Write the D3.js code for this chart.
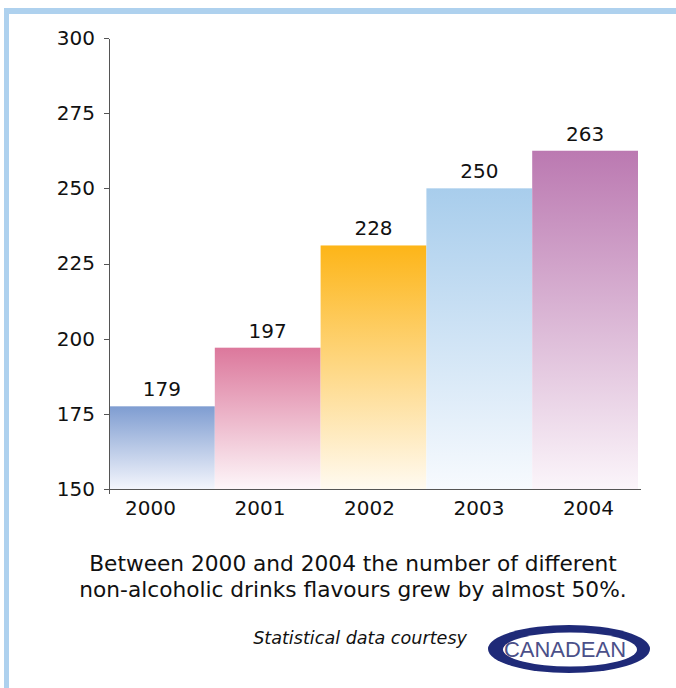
<!DOCTYPE html>
<html>
<head>
<meta charset="utf-8">
<style>
	body { margin: 0; background: #fff; }
	.axis path, .axis line { stroke: #555; shape-rendering: crispEdges; }
	.axis text { font-family: "DejaVu Sans", sans-serif; font-size: 20px; fill: #111; }
	.barlabel { font-family: "DejaVu Sans", sans-serif; font-size: 20px; fill: #111; }
	.caption { font-family: "DejaVu Sans", sans-serif; font-size: 21.7px; fill: #111; }
	.credit { font-family: "DejaVu Sans", sans-serif; font-size: 17.6px; font-style: italic; fill: #111; }
</style>
<script src="https://d3js.org/d3.v7.min.js"></script>
</head>
<body>
<script>
	// values
	var years     = ["2000", "2001", "2002", "2003", "2004"];
	var barValues = [177.5, 197, 231, 250, 262.5];
	var barLabels = ["179", "197", "228", "250", "263"];
	var topColors = ["#7f9dd1", "#dc789c", "#fdb518", "#a8cdec", "#bb79b1"];
	var endColors = ["#f3f5fc", "#fdf6f9", "#fffaf0", "#f7fafe", "#fbf5fa"];
	var yTicks    = [150, 175, 200, 225, 250, 275, 300];
	var captionLines = [
		"Between 2000 and 2004 the number of different",
		"non-alcoholic drinks flavours grew by almost 50%."
	];

	var width = 676, height = 688;

	var svg = d3.select("body")
		.append("svg")
		.attr("width", width)
		.attr("height", height);

	// light blue frame, top and left only
	svg.append("rect").attr("x", 4).attr("y", 8).attr("width", width - 4).attr("height", 6).attr("fill", "#aed1ee");
	svg.append("rect").attr("x", 4).attr("y", 8).attr("width", 5).attr("height", height - 8).attr("fill", "#aed1ee");

	var x = d3.scaleBand().domain(years).range([109, 638]).padding(0);
	var y = d3.scaleLinear().domain([150, 300]).range([489, 38]);
	// the year labels in the original sit on a slightly wider spacing than the bars
	var xLabel = d3.scalePoint().domain(years).range([150, 588]);

	var defs = svg.append("defs");
	years.forEach(function(d, i) {
		var g = defs.append("linearGradient")
			.attr("id", "grad" + i)
			.attr("x1", 0).attr("y1", 0).attr("x2", 0).attr("y2", 1);
		g.append("stop").attr("offset", "0%").attr("stop-color", topColors[i]);
		g.append("stop").attr("offset", "100%").attr("stop-color", endColors[i]);
	});

	svg.selectAll("rect.bar")
		.data(barValues)
		.enter()
		.append("rect")
		  .attr("class", "bar")
		  .attr("x", function(d, i) { return x(years[i]); })
		  .attr("width", x.bandwidth())
		  .attr("y", function(d) { return y(d); })
		  .attr("height", function(d) { return y(150) - y(d); })
		  .attr("fill", function(d, i) { return "url(#grad" + i + ")"; });

	svg.selectAll("text.barlabel")
		.data(barValues)
		.enter()
		.append("text")
		  .attr("class", "barlabel")
		  .attr("text-anchor", "middle")
		  .attr("x", function(d, i) { return x(years[i]) + x.bandwidth() / 2; })
		  .attr("y", function(d) { return y(d) - 10; })
		  .text(function(d, i) { return barLabels[i]; });

	var y_axis = d3.axisLeft(y).tickValues(yTicks).tickSize(5).tickSizeOuter(0).tickPadding(9);
	svg.append("g")
		.attr("class", "y axis")
		.attr("transform", "translate(109,0)")
		.call(y_axis);

	// x axis: domain line from the band scale, labels from the label scale
	var x_axis = d3.axisBottom(xLabel).tickSize(0).tickSizeOuter(0).tickPadding(12);
	var gx = svg.append("g")
		.attr("class", "x axis")
		.attr("transform", "translate(0," + y(150) + ")")
		.call(x_axis);
	gx.select(".domain").attr("d", "M" + x.range()[0] + ",0.5H" + (x.range()[1] + 3));

	// y axis line runs a little below the x axis
	svg.append("line")
		.attr("x1", 109.5).attr("x2", 109.5).attr("y1", y(150)).attr("y2", y(150) + 5)
		.attr("stroke", "#555");

	svg.selectAll("text.caption")
		.data(captionLines)
		.enter()
		.append("text")
		  .attr("class", "caption")
		  .attr("text-anchor", "middle")
		  .attr("x", 353)
		  .attr("y", function(d, i) { return 571 + i * 26; })
		  .text(function(d) { return d; });

	svg.append("text")
		.attr("class", "credit")
		.attr("text-anchor", "end")
		.attr("x", 467)
		.attr("y", 644)
		.text("Statistical data courtesy");

	// Canadean logo
	var logo = svg.append("g").attr("transform", "translate(569,649)");
	logo.append("ellipse").attr("rx", 81).attr("ry", 24).attr("fill", "#1f2a78");
	logo.append("ellipse").attr("cx", 1).attr("cy", 0.5).attr("rx", 67).attr("ry", 17).attr("fill", "#fff");
	logo.append("text")
		.attr("x", -4).attr("y", 8)
		.attr("text-anchor", "middle")
		.attr("font-family", "Liberation Sans, Arial, sans-serif")
		.attr("font-size", 22)
		.attr("textLength", 122)
		.attr("lengthAdjust", "spacingAndGlyphs")
		.attr("fill", "#4b5089")
		.text("CANADEAN");
</script>
</body>
</html>
